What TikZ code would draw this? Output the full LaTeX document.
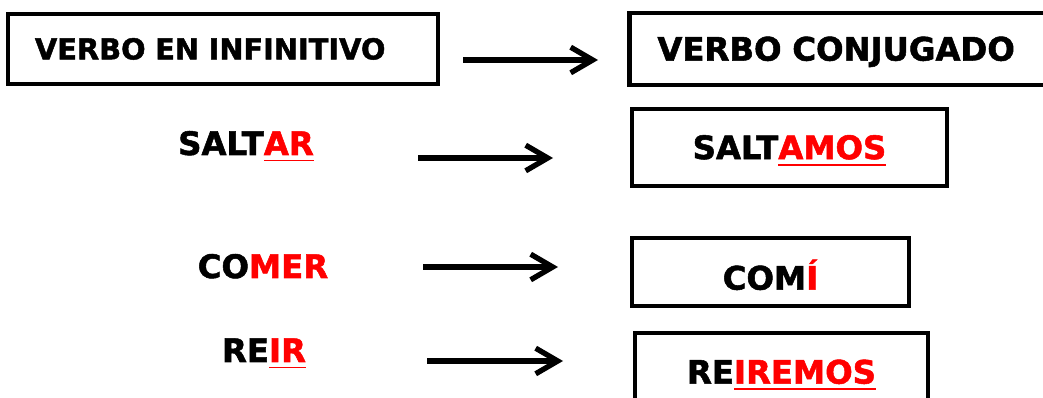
\documentclass[tikz,border=0pt]{standalone}
\usepackage{fontspec}
\setmainfont{DejaVu Sans}[BoldFeatures={FakeBold=1.6}]
\usetikzlibrary{arrows.meta}
\newcommand{\term}[1]{\textcolor{red}{#1}}
\newcommand{\termul}[1]{\textcolor{red}{\setbox0\hbox{#1}\rlap{\rule[-4.6pt]{\wd0}{1.2pt}}\box0}}
\tikzset{
  caja/.style={draw, line width=3.4pt, text height=0.58cm, text depth=0pt},
  palabra/.style={font=\bfseries\fontsize{23}{27}\selectfont},
  flecha/.style={line width=3.8pt, -{Straight Barb[length=0.55cm, width=0.64cm, line width=3.8pt]}},
}
\begin{document}
\begin{tikzpicture}[x=0.025cm, y=-0.025cm]
    \useasboundingbox (0,0) rectangle (1043,398);
    \clip (0,0) rectangle (1043,398);

    \coordinate (F1a) at (463, 60);
    \coordinate (F1b) at (598, 60);
    \coordinate (F2a) at (418, 158);
    \coordinate (F2b) at (553, 158);
    \coordinate (F3a) at (423, 267);
    \coordinate (F3b) at (558, 267);
    \coordinate (F4a) at (427, 361);
    \coordinate (F4b) at (563, 361);

    \node[caja, palabra, font=\bfseries\fontsize{20.5}{24}\selectfont, text height=0.52cm, minimum height=1.75cm,
          text width=9.4cm, inner xsep=0.675cm, align=left] (infinitivo) at (223, 49) {VERBO EN INFINITIVO};
    \node[caja, palabra, anchor=west, minimum height=1.8cm,
          text width=9.5cm, inner xsep=0.7cm, align=left] (conjugado) at (627, 49) {VERBO CONJUGADO};

    \node[palabra, anchor=base] (saltar) at (246, 155) {SALT\termul{AR}};
    \node[palabra, anchor=base] (comer) at (263, 278) {CO\term{MER}};
    \node[palabra, anchor=base] (reir) at (264, 362) {RE\termul{IR}};

    \node[caja, palabra, minimum width=7.875cm, minimum height=1.925cm] (saltamos) at (789.5, 147.5) {SALT\termul{AMOS}};
    \node[caja, palabra, text height=0.88cm, minimum width=6.925cm, minimum height=1.7cm] (comi) at (770.5, 272) {COM\term{Í}};
    \node[caja, palabra, minimum width=7.325cm, minimum height=1.95cm] (reiremos) at (781.5, 372) {RE\termul{IREMOS}};

    \draw[flecha] (F1a) -- (F1b);
    \draw[flecha] (F2a) -- (F2b);
    \draw[flecha] (F3a) -- (F3b);
    \draw[flecha] (F4a) -- (F4b);
\end{tikzpicture}
\end{document}
